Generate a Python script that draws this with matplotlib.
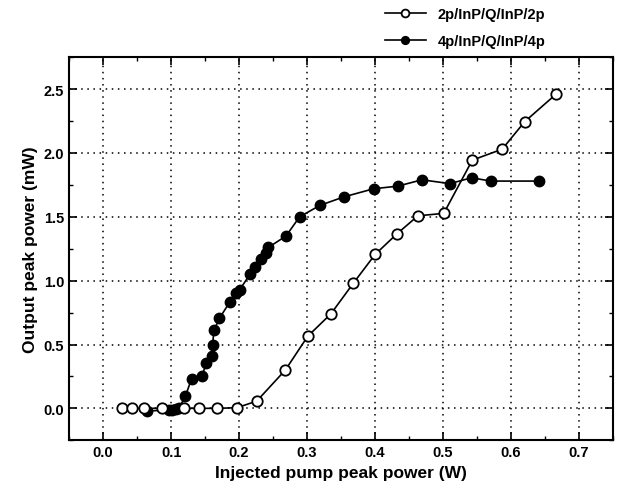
import matplotlib.pyplot as plt
from matplotlib.ticker import MultipleLocator

plt.rcParams['font.family'] = ['Liberation Sans', 'DejaVu Sans']
plt.rcParams['font.weight'] = 'bold'

# 2p/InP/Q/InP/2p (open circles)
x_2p = [0.028, 0.042, 0.060, 0.086, 0.119, 0.141, 0.168, 0.197, 0.226, 0.268, 0.301,
        0.335, 0.368, 0.400, 0.432, 0.463, 0.501, 0.543, 0.587, 0.620, 0.666]
y_2p = [0.0, 0.0, 0.0, 0.0, 0.0, 0.0, 0.0, 0.005, 0.057, 0.30, 0.565,
        0.74, 0.98, 1.205, 1.366, 1.508, 1.527, 1.944, 2.03, 2.245, 2.46]

# 4p/InP/Q/InP/4p (filled circles)
x_4p = [0.065, 0.097, 0.102, 0.107, 0.112, 0.121, 0.130, 0.145, 0.152, 0.160, 0.161,
        0.163, 0.171, 0.186, 0.195, 0.201, 0.216, 0.224, 0.232, 0.239, 0.243, 0.269,
        0.289, 0.319, 0.354, 0.398, 0.433, 0.469, 0.510, 0.542, 0.570, 0.641]
y_4p = [-0.02, -0.015, -0.01, -0.005, 0.005, 0.096, 0.23, 0.25, 0.355, 0.41, 0.50,
        0.61, 0.705, 0.83, 0.90, 0.93, 1.05, 1.107, 1.17, 1.215, 1.26, 1.35,
        1.50, 1.59, 1.656, 1.72, 1.74, 1.79, 1.76, 1.806, 1.78, 1.78]

labels = ['2p/InP/Q/InP/2p', '4p/InP/Q/InP/4p']

fig = plt.figure(figsize=(6.23, 5.02), dpi=100)
ax = fig.add_axes([0.111, 0.121, 0.873, 0.763])

ax.plot(x_2p, y_2p, '-o', color='black', mfc='white', mec='black', ms=7.5, lw=1.2,
        mew=1.3, label=labels[0], zorder=4)
ax.plot(x_4p, y_4p, '-o', color='black', mfc='black', ms=7.5, lw=1.2,
        label=labels[1], zorder=3)

ax.set_xlim(-0.05, 0.75)
ax.set_ylim(-0.25, 2.75)
ax.xaxis.set_major_locator(MultipleLocator(0.1))
ax.xaxis.set_minor_locator(MultipleLocator(0.05))
ax.yaxis.set_major_locator(MultipleLocator(0.5))
ax.yaxis.set_minor_locator(MultipleLocator(0.25))
ax.xaxis.set_major_formatter(plt.FormatStrFormatter('%.1f'))
ax.yaxis.set_major_formatter(plt.FormatStrFormatter('%.1f'))
ax.tick_params(which='both', direction='in', top=True, right=True, labelsize=10.5)
ax.tick_params(which='major', length=6, width=1.2)
ax.tick_params(which='minor', length=3, width=1)
ax.grid(True, which='major', linestyle=(0, (1, 3)), color='black', lw=1.1)
for s in ax.spines.values():
    s.set_linewidth(1.5)

ax.set_xlabel('Injected pump peak power (W)', fontsize=12.5, fontweight='bold')
ax.set_ylabel('Output peak power (mW)', fontsize=12.5, fontweight='bold')

fig.legend(loc='upper left', bbox_to_anchor=(0.597, 1.01), frameon=False, fontsize=10.5,
           handlelength=2.8, labelspacing=0.9, markerscale=0.75)

fig.savefig('out.png', dpi=100)
